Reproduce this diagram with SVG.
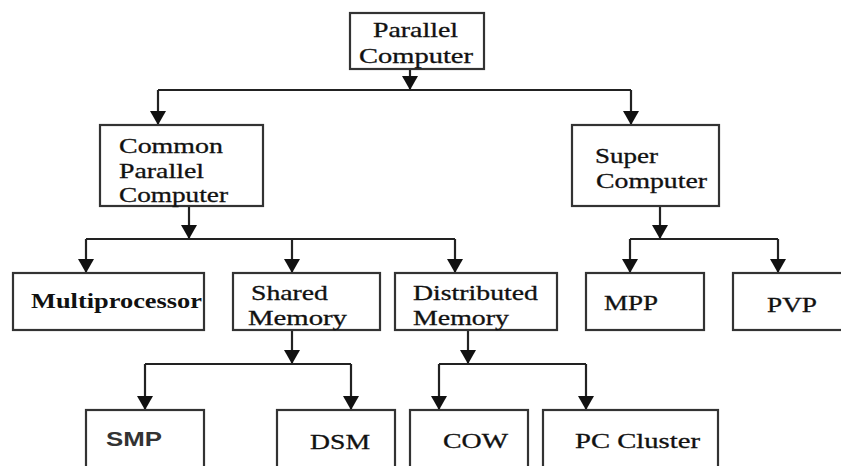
<svg xmlns="http://www.w3.org/2000/svg" width="841" height="466" viewBox="0 0 841 466">
<style>
.box{fill:#fff;stroke:#333;stroke-width:2.2}
.t{font-family:"Liberation Serif","Times New Roman",serif;font-size:21px;fill:#111;stroke:#111;stroke-width:0.3}
.b{font-weight:bold;stroke-width:0}
.s{font-family:"Liberation Sans",Arial,sans-serif;font-size:20px;font-weight:bold;fill:#333}
.c{fill:none;stroke:#222;stroke-width:2.2}
</style>
<defs>
<marker id="ah" markerUnits="userSpaceOnUse" viewBox="0 0 14 16" refX="14" refY="8" markerWidth="14" markerHeight="16" orient="auto">
<path d="M0,0 L14,8 L0,16 Z" fill="#111"/>
</marker>
</defs>
<rect width="841" height="466" fill="#fff"/>
<g id="connectors">
<path class="c" d="M410,69 V90" marker-end="url(#ah)"/>
<path class="c" d="M158,90 H631"/>
<path class="c" d="M158,90 V125" marker-end="url(#ah)"/>
<path class="c" d="M631,90 V125" marker-end="url(#ah)"/>
<path class="c" d="M189,206 V239" marker-end="url(#ah)"/>
<path class="c" d="M86,239 H455"/>
<path class="c" d="M86,239 V273" marker-end="url(#ah)"/>
<path class="c" d="M292,239 V273" marker-end="url(#ah)"/>
<path class="c" d="M455,239 V273" marker-end="url(#ah)"/>
<path class="c" d="M660,206 V239" marker-end="url(#ah)"/>
<path class="c" d="M630,239 H778"/>
<path class="c" d="M630,239 V273" marker-end="url(#ah)"/>
<path class="c" d="M778,239 V273" marker-end="url(#ah)"/>
<path class="c" d="M292,330 V364" marker-end="url(#ah)"/>
<path class="c" d="M145,364 H351"/>
<path class="c" d="M145,364 V410" marker-end="url(#ah)"/>
<path class="c" d="M351,364 V410" marker-end="url(#ah)"/>
<path class="c" d="M468,330 V364" marker-end="url(#ah)"/>
<path class="c" d="M439,364 H586"/>
<path class="c" d="M439,364 V410" marker-end="url(#ah)"/>
<path class="c" d="M586,364 V410" marker-end="url(#ah)"/>
</g>
<g id="parallel-computer">
<rect class="box" x="350" y="13" width="134" height="56"/>
<text class="t" x="373" y="37" textLength="85" lengthAdjust="spacingAndGlyphs">Parallel</text>
<text class="t" x="359" y="63" textLength="114" lengthAdjust="spacingAndGlyphs">Computer</text>
</g>
<g id="common-parallel-computer">
<rect class="box" x="100" y="125" width="163" height="81"/>
<text class="t" x="119" y="153" textLength="104" lengthAdjust="spacingAndGlyphs">Common</text>
<text class="t" x="119" y="178" textLength="85" lengthAdjust="spacingAndGlyphs">Parallel</text>
<text class="t" x="119" y="202" textLength="109" lengthAdjust="spacingAndGlyphs">Computer</text>
</g>
<g id="super-computer">
<rect class="box" x="572" y="125" width="147" height="81"/>
<text class="t" x="595" y="163" textLength="63" lengthAdjust="spacingAndGlyphs">Super</text>
<text class="t" x="596" y="188" textLength="111" lengthAdjust="spacingAndGlyphs">Computer</text>
</g>
<g id="multiprocessor">
<rect class="box" x="13" y="273" width="191" height="57"/>
<text class="t b" x="31" y="308" textLength="171" lengthAdjust="spacingAndGlyphs">Multiprocessor</text>
</g>
<g id="shared-memory">
<rect class="box" x="233" y="273" width="147" height="57"/>
<text class="t" x="251" y="300" textLength="77" lengthAdjust="spacingAndGlyphs">Shared</text>
<text class="t" x="248" y="325" textLength="99" lengthAdjust="spacingAndGlyphs">Memory</text>
</g>
<g id="distributed-memory">
<rect class="box" x="395" y="273" width="162" height="57"/>
<text class="t" x="413" y="300" textLength="125" lengthAdjust="spacingAndGlyphs">Distributed</text>
<text class="t" x="413" y="325" textLength="96" lengthAdjust="spacingAndGlyphs">Memory</text>
</g>
<g id="mpp">
<rect class="box" x="586" y="273" width="118" height="57"/>
<text class="t" x="604" y="310" textLength="54" lengthAdjust="spacingAndGlyphs">MPP</text>
</g>
<g id="pvp">
<rect class="box" x="733" y="273" width="120" height="57"/>
<text class="t" x="767" y="312" textLength="50" lengthAdjust="spacingAndGlyphs">PVP</text>
</g>
<g id="smp">
<rect class="box" x="86" y="410" width="118" height="62"/>
<text class="s" x="106" y="446" textLength="56" lengthAdjust="spacingAndGlyphs">SMP</text>
</g>
<g id="dsm">
<rect class="box" x="277" y="410" width="118" height="62"/>
<text class="t" x="310" y="449" textLength="60" lengthAdjust="spacingAndGlyphs">DSM</text>
</g>
<g id="cow">
<rect class="box" x="410" y="410" width="118" height="62"/>
<text class="t" x="443" y="448" textLength="65" lengthAdjust="spacingAndGlyphs">COW</text>
</g>
<g id="pc-cluster">
<rect class="box" x="543" y="410" width="175" height="62"/>
<text class="t" x="575" y="448" textLength="125" lengthAdjust="spacingAndGlyphs">PC Cluster</text>
</g>
</svg>
